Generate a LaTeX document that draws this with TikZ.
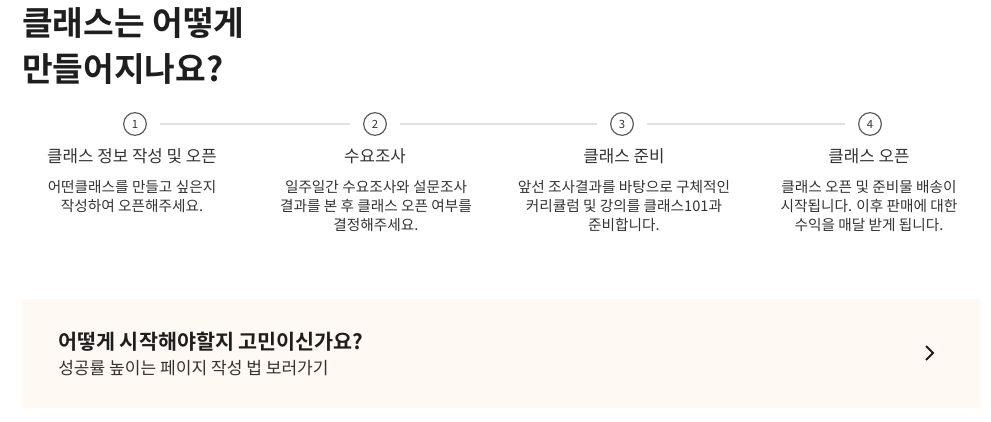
\documentclass[tikz,border=0pt]{standalone}
\usepackage{fontspec}
\setmainfont{Noto Sans CJK KR}
\newfontfamily\krbold{Noto Sans CJK KR Bold}
\definecolor{ink}{HTML}{1E1E1E}
\definecolor{body}{HTML}{333333}
\definecolor{rule}{HTML}{E0E0E0}
\definecolor{boxbg}{HTML}{FFF8F3}
\tikzset{
  stepnum/.style={circle,draw=body!80,line width=0.9pt,minimum size=17pt,inner sep=0pt,font=\fontsize{8.5}{10}\selectfont,text=body},
  steptitle/.style={font=\fontsize{12.6}{15}\selectfont,text=body},
  stepdesc/.style={align=center,font=\fontsize{11}{14.3}\selectfont,text=body,anchor=north},
  stepline/.style={draw=rule,line width=0.8pt,shorten <=10pt,shorten >=10pt}
}
\begin{document}
\begin{tikzpicture}[x=0.75pt,y=-0.75pt,line cap=round,line join=round]
\useasboundingbox (0,0) rectangle (991,421);
% title
\node[anchor=west,align=left,font=\krbold\fontsize{25}{34.5}\selectfont,text=ink,inner sep=0pt] (title) at (22,46) {클래스는 어떻게\\만들어지나요?};
% steps
\node[stepnum] (n1) at (135,124) {1};
\node[stepnum] (n2) at (375,124) {2};
\node[stepnum] (n3) at (622,124) {3};
\node[stepnum] (n4) at (870,124) {4};
\draw[stepline] (n1) -- (n2);
\draw[stepline] (n2) -- (n3);
\draw[stepline] (n3) -- (n4);
\node[steptitle] (t1) at (132,156) {클래스 정보 작성 및 오픈};
\node[steptitle] (t2) at (375,156) {수요조사};
\node[steptitle] (t3) at (624,156) {클래스 준비};
\node[steptitle] (t4) at (869,156) {클래스 오픈};
\node[stepdesc] (d1) at (132,176) {어떤클래스를 만들고 싶은지\\작성하여 오픈해주세요.};
\node[stepdesc] (d2) at (376,176) {일주일간 수요조사와 설문조사\\결과를 본 후 클래스 오픈 여부를\\결정해주세요.};
\node[stepdesc] (d3) at (624,176) {앞선 조사결과를 바탕으로 구체적인\\커리큘럼 및 강의를 클래스101과\\준비합니다.};
\node[stepdesc] (d4) at (869,176) {클래스 오픈 및 준비물 배송이\\시작됩니다. 이후 판매에 대한\\수익을 매달 받게 됩니다.};
% banner
\fill[boxbg,rounded corners=1.5pt] (22,299) rectangle (981,408);
\node[anchor=west,font=\krbold\fontsize{15.5}{18}\selectfont,text=ink,inner sep=0pt] (bt) at (58,342) {어떻게 시작해야할지 고민이신가요?};
\node[anchor=west,font=\fontsize{12.8}{15}\selectfont,text=body,inner sep=0pt] (bs) at (58,368) {성공률 높이는 페이지 작성 법 보러가기};
\coordinate (chev) at (930,353);
\draw[ink,line width=1.4pt,line cap=butt,line join=miter] ([shift={(-4,-7)}]chev) -- ([shift={(3,0)}]chev) -- ([shift={(-4,7)}]chev);
\end{tikzpicture}
\end{document}
